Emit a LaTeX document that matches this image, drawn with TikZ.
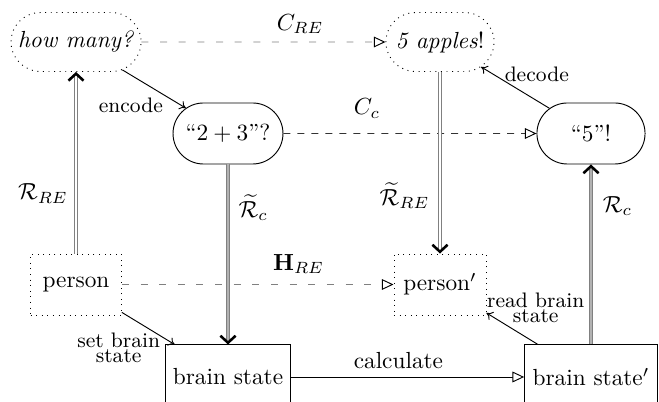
\documentclass[tikz,border=0pt]{standalone}
\usetikzlibrary{arrows.meta,shapes.misc}
\newcommand{\zw}[1]{\makebox[0pt]{#1}}
\begin{document}
\begin{tikzpicture}[x=0.4292pt,y=-0.4292pt,
  stadium/.style={rounded rectangle, draw, minimum height=26.2pt, inner xsep=0pt, inner ysep=3pt},
  dotbox/.style={rectangle, draw, dotted, minimum height=26.2pt, inner sep=3pt},
  solidbox/.style={rectangle, draw, minimum height=27.5pt, inner sep=3.33pt},
  opentip/.style={-{Triangle[color=black, fill=white, length=5pt, width=4.6pt]}},
  dashgray/.style={draw=gray, dash pattern=on 3pt off 5pt, opentip},
  dashdark/.style={draw=black!80, dashed, opentip},
  solidtri/.style={draw=black, opentip},
  repA/.style={draw=gray, double=white, double distance=0.9pt, line width=0.5pt},
  repB/.style={draw=gray, double=gray!60, double distance=0.9pt, line width=0.5pt},
  reptip/.style={-{Straight Barb[color=black, length=3pt, width=6.5pt, line width=1.1pt]}},
  thinarrow/.style={-{To[length=2.6pt, width=4pt]}},
  lab/.style={font=\small, align=center}
]
\useasboundingbox (0,0) rectangle (659,402);

\node[stadium, dotted, minimum width=55.8pt, minimum height=25.3pt] (how) at (76,42) {\zw{\emph{how many?}}};
\node[stadium, dotted, minimum width=46.4pt, minimum height=25.3pt] (apples) at (440,42) {\zw{\emph{5 apples}!}};
\node[stadium, minimum width=47.2pt] (q) at (228,133.5) {\zw{``$2+3$''?}};
\node[stadium, minimum width=46.4pt] (five) at (591,133.5) {\zw{``5''!}};
\node[dotbox, minimum width=39pt] (person) at (76,284.5) {person};
\node[dotbox, minimum width=39.5pt] (personp) at (440,284.5) {person$'$};
\node[solidbox, minimum width=52.4pt] (bs) at (228,377) {brain state};
\node[solidbox, minimum width=57pt] (bsp) at (591,377) {brain state$'$};

% horizontal connectors
\draw[dashgray] (how) -- node[pos=0.65, above] {$C_{RE}$} (apples);
\draw[dashdark] (q) -- node[pos=0.33, above=3pt] {$C_c$} (five);
\draw[dashgray] (person) -- node[pos=0.65, above=1pt] {$\mathbf{H}_{RE}$} (personp);
\draw[solidtri] (bs) -- node[pos=0.46, above] {calculate} (bsp);

% vertical double connectors
\draw[repA, reptip] (person) -- node[pos=0.33, left] {$\mathcal{R}_{RE}$} (how);
\draw[repB, reptip] (q) -- node[pos=0.24, right=1pt] {$\widetilde{\mathcal{R}}_c$} (bs);
\draw[repA, reptip] (apples) -- node[pos=0.68, left=1pt] {$\widetilde{\mathcal{R}}_{RE}$} (personp);
\draw[repB, reptip] (bsp) -- node[pos=0.77, right=1.5pt] {$\mathcal{R}_c$} (five);

% thin diagonal connectors
\draw[thinarrow] (how) -- node[lab, pos=0.6, xshift=-12.7pt, yshift=-5.3pt] {encode} (q);
\draw[thinarrow] (five) -- node[lab, pos=0.4, xshift=6.3pt, yshift=7.6pt] {decode} (apples);
\draw[thinarrow] (person) -- node[lab, pos=0.5, xshift=-12.7pt, yshift=-8.3pt] {set brain\\[-4.5pt]state} (bs);
\draw[thinarrow] (bsp) -- node[lab, pos=0.5, xshift=10.1pt, yshift=9pt] {read brain\\[-4.5pt]state} (personp);
\end{tikzpicture}
\end{document}
